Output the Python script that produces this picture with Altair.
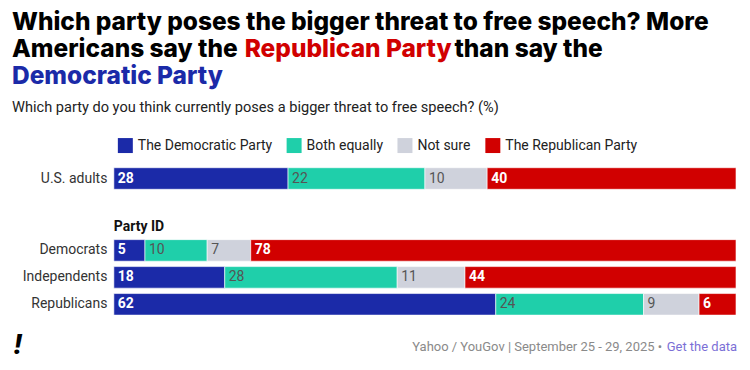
import altair as alt
import pandas as pd

groups = ["U.S. adults", "Democrats", "Independents", "Republicans"]
categories = ["The Democratic Party", "Both equally", "Not sure", "The Republican Party"]
dem_party = [28, 5, 18, 62]
both_equally = [22, 10, 28, 24]
not_sure = [10, 7, 11, 9]
rep_party = [40, 78, 44, 6]
colors = ["#1b2aa8", "#1fcfaa", "#cfd2dc", "#d10000"]

series = [dem_party, both_equally, not_sure, rep_party]
rows = []
for gi, g in enumerate(groups):
    for ci, c in enumerate(categories):
        rows.append({"group": g, "category": c, "order": ci, "value": series[ci][gi]})
df = pd.DataFrame(rows)

FONT = "Roboto"
HFONT = "Inter"
W = 623
STEP = 27


def panel(data, group_list, show_legend):
    base = alt.Chart(data)
    color_scale = alt.Scale(domain=categories, range=colors)
    if show_legend:
        legend = alt.Legend(
            orient="none", legendX=4, legendY=-27, direction="horizontal",
            title=None, symbolType="square", symbolSize=225, symbolStrokeWidth=0,
            labelFont=FONT, labelFontSize=14, labelColor="#222", labelOffset=5,
            columnPadding=14, padding=0, symbolOpacity=1,
        )
    else:
        legend = None
    yenc = alt.Y(
        "group:N", sort=group_list, title=None,
        scale=alt.Scale(paddingInner=0.2, paddingOuter=0.1),
        axis=alt.Axis(domain=False, ticks=False, labelFont=FONT, labelFontSize=14,
                      labelColor="#333", labelPadding=7, minExtent=100, maxExtent=100),
    )
    bars = base.mark_bar(stroke="white", strokeWidth=0.6).encode(
        x=alt.X("value:Q", stack="normalize", axis=None, scale=alt.Scale(domain=[0, 1])),
        y=yenc,
        color=alt.Color("category:N", scale=color_scale, legend=legend),
        order=alt.Order("order:Q"),
    )
    stacked = base.transform_stack(
        stack="value", groupby=["group"], as_=["v0", "v1"],
        sort=[alt.SortField("order")], offset="normalize",
    )
    t_white = stacked.transform_filter(
        "datum.order == 0 || datum.order == 3"
    ).mark_text(align="left", baseline="middle", dx=4, font=FONT, fontSize=14,
                fontWeight="bold", color="white").encode(
        x=alt.X("v0:Q"), y=alt.Y("group:N", sort=group_list), text="value:Q")
    t_gray = stacked.transform_filter(
        "datum.order == 1 || datum.order == 2"
    ).mark_text(align="left", baseline="middle", dx=4, font=FONT, fontSize=14,
                color="#555").encode(
        x=alt.X("v0:Q"), y=alt.Y("group:N", sort=group_list), text="value:Q")
    return bars, t_white, t_gray


def label(text, x, y, size, color, weight="normal", align="left", style="normal", font=FONT):
    return alt.Chart(pd.DataFrame({"t": [text]})).mark_text(
        align=align, baseline="alphabetic", font=font, fontSize=size,
        fontWeight=weight, color=color, fontStyle=style,
    ).encode(x=alt.value(x), y=alt.value(y), text="t:N")


top_df = df[df.group == "U.S. adults"]
bot_df = df[df.group != "U.S. adults"]

b1, w1, g1 = panel(top_df, ["U.S. adults"], True)
b2, w2, g2 = panel(bot_df, groups[1:], False)

TY = -164
HS = 24.5
header = [
    label("Which party poses the bigger threat to free speech? More", -102, 28.5 + TY, HS, "#000", 800, font=HFONT),
    label("Americans say the", -102, 55.5 + TY, HS, "#000", 800, font=HFONT),
    label("Republican Party", 131, 55.5 + TY, HS, "#d10000", 800, font=HFONT),
    label("than say the", 341, 55.5 + TY, HS, "#000", 800, font=HFONT),
    label("Democratic Party", -102, 82.5 + TY, HS, "#1b2aa8", 800, font=HFONT),
    label("Which party do you think currently poses a bigger threat to free speech? (%)",
          -102, 111 + TY, 14.6, "#222"),
]

BY = -239
footer = [
    label("!", -100, 356 + BY, 28, "#000", 900, style="italic"),
    label("Get the data", 624, 353 + BY, 13, "#7b6fd6", align="right"),
    label("Yahoo / YouGov | September 25 - 29, 2025 \u2022", 549, 353 + BY, 13, "#8a8a8a", align="right"),
]

top = alt.layer(b1, w1, g1, *header).properties(width=W, height=alt.Step(STEP))
bottom = alt.layer(b2, w2, g2, *footer).properties(
    width=W, height=alt.Step(STEP),
    title=alt.TitleParams("Party ID", anchor="start", frame="group", font=FONT, fontSize=14,
                          fontWeight="bold", color="#111", offset=3),
)

chart = alt.vconcat(top, bottom, spacing=28).resolve_scale(color="independent").properties(
    padding={"left": 4, "top": 1, "right": 5, "bottom": 5}
).configure_view(stroke=None)

chart.save("out.html", embed_options={"renderer": "svg", "actions": False})
